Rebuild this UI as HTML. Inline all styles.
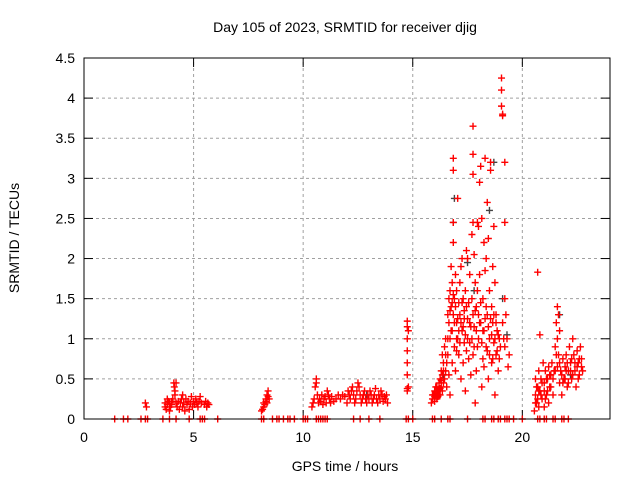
<!DOCTYPE html>
<html><head><meta charset="utf-8"><style>
html,body{margin:0;padding:0;background:#fff;}
svg{display:block;font-family:"Liberation Sans",sans-serif;}
</style></head><body>
<svg id="chart" width="640" height="480" viewBox="0 0 640 480">
<text x="345" y="32" text-anchor="middle" font-size="14">Day 105 of 2023, SRMTID for receiver djig</text>
<text x="345" y="471" text-anchor="middle" font-size="14">GPS time / hours</text>
<text transform="translate(19,238) rotate(-90)" text-anchor="middle" font-size="14">SRMTID / TECUs</text>
<g id="grid"></g>
<g id="ticks"></g>
<g id="marks"></g>
<rect x="84" y="58" width="526" height="361" fill="none" stroke="#000" stroke-width="1"/>
</svg>
<script>
const xTicks=[0,5,10,15,20];
const yTicks=[0,0.5,1,1.5,2,2.5,3,3.5,4,4.5];
const yTickLabels=["0","0.5","1","1.5","2","2.5","3","3.5","4","4.5"];
const zeroHours=[1.4,1.8,2.0,2.6,2.8,2.9,3.6,3.9,4.2,4.8,5.3,5.4,5.5,6.1,8.1,8.2,8.6,8.8,8.9,9.1,9.3,9.4,9.6,10.0,10.1,10.2,10.6,10.7,10.8,10.9,11.0,11.1,12.3,12.6,13.0,13.5,14.7,14.8,15.0,15.9,16.0,16.3,16.6,16.7,17.5,18.2,18.3,18.6,18.7,18.9,19.0,19.2,19.3,19.4,19.6,20.0,20.7,20.8,21.0,21.1,21.4,21.5,21.8,21.9,22.1];
const morning=[[2.8,.2],[2.85,.15],[3.7,.15],[3.7,.2],[3.75,.12],[3.8,.18],[3.8,.25],[3.85,.22],[3.9,.1],[3.9,.2],[3.95,.15],[4.0,.22],[4.0,.18],[4.05,.25],[4.1,.45],[4.12,.4],[4.15,.35],[4.15,.3],[4.2,.2],[4.2,.45],[4.25,.15],[4.3,.22],[4.35,.12],[4.4,.2],[4.45,.25],[4.5,.15],[4.5,.3],[4.55,.2],[4.6,.1],[4.65,.25],[4.7,.18],[4.75,.22],[4.8,.12],[4.85,.2],[4.9,.28],[4.95,.15],[5.0,.22],[5.05,.18],[5.1,.25],[5.15,.2],[5.2,.15],[5.25,.22],[5.3,.28],[5.35,.2],[5.5,.18],[5.55,.22],[5.6,.15],[5.65,.2],[5.7,.18]];
const midday=[[8.1,.1],[8.15,.12],[8.2,.15],[8.2,.2],[8.25,.18],[8.3,.22],[8.3,.25],[8.35,.2],[8.35,.3],[8.4,.28],[8.4,.35],[8.45,.25],[10.4,.15],[10.45,.2],[10.5,.25],[10.55,.4],[10.6,.5],[10.6,.45],[10.65,.3],[10.7,.2],[10.75,.25],[10.8,.22],[10.85,.3],[10.9,.18],[10.95,.25],[11.0,.28],[11.05,.2],[11.1,.35],[11.15,.3],[11.2,.25],[11.25,.2],[11.3,.28],[11.4,.22],[11.5,.25],[11.6,.3],[11.7,.25],[11.8,.3],[11.9,.28],[12.0,.2],[12.05,.35],[12.1,.3],[12.15,.25],[12.2,.35],[12.25,.4],[12.3,.3],[12.35,.2],[12.4,.25],[12.45,.35],[12.5,.45],[12.55,.4],[12.6,.3],[12.65,.2],[12.7,.25],[12.75,.3],[12.8,.35],[12.85,.25],[12.9,.2],[12.95,.3],[13.0,.25],[13.05,.35],[13.1,.3],[13.15,.2],[13.2,.25],[13.25,.3],[13.3,.38],[13.35,.25],[13.4,.2],[13.45,.3],[13.5,.25],[13.55,.35],[13.6,.3],[13.65,.22],[13.7,.28],[13.75,.25],[13.8,.3],[13.85,.2],[14.75,.35],[14.75,.38],[14.75,.55],[14.75,.7],[14.75,.85],[14.75,1.0],[14.75,1.15],[14.75,1.22],[14.8,.4],[14.8,1.1]];
const burst=[[15.85,.2],[15.9,.25],[15.95,.3],[16.0,.22],[16.0,.35],[16.05,.3],[16.1,.4],[16.1,.25],[16.15,.35],[16.2,.45],[16.2,.3],[16.25,.5],[16.25,.38],[16.3,.6],[16.3,.4],[16.35,.55],[16.35,.8],[16.4,.7],[16.4,.45],[16.45,.9],[16.5,1.0],[16.5,.6],[16.55,.4],[16.6,1.3],[16.6,.8],[16.65,1.5],[16.65,.55],[16.7,1.6],[16.7,1.0],[16.7,.3],[16.75,1.9],[16.75,1.4],[16.8,1.7],[16.8,1.1],[16.8,.7],[16.85,2.2],[16.85,1.3],[16.85,3.1],[16.85,3.25],[16.85,2.45],[16.9,1.5],[16.9,.9],[16.95,1.8],[16.95,.6],[17.0,1.2],[17.0,1.6],[17.05,2.75],[17.05,1.0],[17.1,1.45],[17.1,.8],[17.15,1.3],[17.15,1.7],[17.2,1.9],[17.2,.5],[17.25,2.0],[17.25,1.1],[17.3,1.5],[17.3,.7],[17.35,1.25],[17.35,.95],[17.4,1.6],[17.4,.35],[17.45,2.1],[17.45,1.4],[17.5,2.0],[17.5,1.0],[17.55,.75],[17.6,1.8],[17.6,1.2],[17.65,.55],[17.7,1.5],[17.7,2.3],[17.75,2.45],[17.75,3.05],[17.75,3.3],[17.75,3.65],[17.75,1.3],[17.8,2.05],[17.8,.9],[17.85,1.7],[17.85,.2],[17.9,1.4],[17.9,.6],[17.95,2.45],[17.95,1.6],[18.0,2.4],[18.0,1.0],[18.05,2.95],[18.05,1.8],[18.1,3.15],[18.1,1.2],[18.15,2.5],[18.15,.4],[18.2,1.5],[18.2,.75],[18.25,2.2],[18.25,1.1],[18.3,3.25],[18.3,1.85],[18.35,2.0],[18.35,.9],[18.4,2.7],[18.4,1.3],[18.45,2.25],[18.45,.5],[18.5,1.6],[18.5,1.0],[18.55,3.1],[18.55,3.2],[18.6,1.4],[18.6,.7],[18.65,1.9],[18.65,1.2],[18.7,2.4],[18.7,.95],[18.75,1.7],[18.75,.3],[18.8,1.3],[18.8,.8],[18.85,1.1],[18.9,.6],[18.95,1.0],[19.05,4.25],[19.05,4.1],[19.05,3.9],[19.1,3.78],[19.1,3.8],[19.2,3.2],[19.2,2.45],[19.2,1.5],[19.2,.9],[19.25,1.3],[19.3,1.0],[19.35,.65],[19.4,.8]];
const burstDense=[[15.9,.3],[16.0,.28],[16.05,.4],[16.1,.32],[16.15,.28],[16.2,.38],[16.25,.3],[16.3,.48],[16.35,.35],[16.4,.6],[16.45,.5],[16.5,.8],[16.55,.7],[16.6,1.0],[16.65,1.2],[16.7,1.35],[16.75,1.1],[16.8,1.45],[16.85,1.55],[16.9,1.2],[16.95,1.4],[17.0,1.0],[17.0,.85],[17.05,1.25],[17.1,1.1],[17.15,.95],[17.2,1.2],[17.25,1.45],[17.3,1.15],[17.35,1.35],[17.4,1.05],[17.45,.85],[17.5,1.25],[17.55,1.45],[17.6,.95],[17.65,1.15],[17.7,1.0],[17.75,.8],[17.8,1.15],[17.85,1.35],[17.9,1.1],[17.95,.9],[18.0,1.3],[18.05,1.2],[18.1,1.45],[18.15,.95],[18.2,1.1],[18.25,.65],[18.3,1.25],[18.35,1.4],[18.4,.85],[18.45,1.15],[18.5,.8],[18.55,1.25],[18.6,1.05],[18.65,.75],[18.7,1.3],[18.75,1.0],[18.8,1.2],[18.85,.85],[18.9,1.05],[18.95,.75],[19.0,.9],[19.1,1.2],[19.15,1.0]];
const evening=[[20.55,.1],[20.6,.3],[20.6,.5],[20.65,.2],[20.7,1.83],[20.7,.4],[20.75,.6],[20.75,.15],[20.8,1.05],[20.8,.35],[20.85,.5],[20.9,.25],[20.95,.7],[21.0,.45],[21.0,.15],[21.05,.6],[21.1,.3],[21.15,.5],[21.2,.65],[21.2,.2],[21.25,.4],[21.3,.55],[21.35,.7],[21.4,.3],[21.45,.6],[21.5,.9],[21.55,1.2],[21.6,1.4],[21.6,1.0],[21.65,.8],[21.65,1.3],[21.7,1.1],[21.7,.45],[21.75,.6],[21.8,.3],[21.85,.75],[21.9,.5],[21.95,.65],[22.0,.8],[22.05,.4],[22.1,.6],[22.15,.9],[22.2,.7],[22.25,.5],[22.3,1.0],[22.35,.8],[22.4,.6],[22.45,.4],[22.5,.85],[22.55,.7],[22.6,.55],[22.65,.9],[22.7,.75],[22.75,.6],[20.6,.2],[20.65,.4],[20.7,.25],[20.75,.35],[20.85,.3],[20.9,.45],[21.0,.35],[21.05,.25],[21.1,.5],[21.15,.35],[21.25,.55],[21.3,.4],[21.4,.5],[21.5,.6],[21.55,.8],[21.6,.65],[21.7,.7],[21.8,.55],[21.85,.45],[21.95,.5],[22.0,.6],[22.05,.7],[22.1,.45],[22.2,.6],[22.25,.75],[22.3,.55],[22.4,.7],[22.5,.65],[22.55,.5],[22.6,.75],[22.7,.65]];
const grayPoints=[[16.9,2.75],[16.85,2.45],[17.5,1.95],[18.7,3.2],[18.5,2.6],[19.1,1.5],[19.3,1.05],[17.8,1.6],[16.4,.55],[12.9,.3],[22.2,.55],[21.7,1.3]];

const X0=84,X1=610,Y0=419,Y1=58,XMAX=24,YMAX=4.5;
function sx(h){return X0+(h/XMAX)*(X1-X0);}
function sy(v){return Y0-(v/YMAX)*(Y0-Y1);}
const NS="http://www.w3.org/2000/svg";
const grid=document.getElementById('grid'),ticks=document.getElementById('ticks'),marks=document.getElementById('marks');
function mk(tag,attrs,parent){const e=document.createElementNS(NS,tag);for(const k in attrs)e.setAttribute(k,attrs[k]);parent.appendChild(e);return e;}
yTicks.forEach((v,i)=>{
  const y=sy(v);
  if(v>0&&v<YMAX){const g=mk('line',{x1:X0,x2:X1,y1:y,y2:y,stroke:'#a0a0a0','stroke-dasharray':'3,3'},grid);
  
  }
  mk('line',{x1:X0,x2:X0+9,y1:y,y2:y,stroke:'#000'},ticks);
  mk('line',{x1:X1-9,x2:X1,y1:y,y2:y,stroke:'#000'},ticks);
  const t=mk('text',{x:X0-9,y:y+5,'text-anchor':'end','font-size':14},ticks);
  t.textContent=yTickLabels[i];
  
  
});
xTicks.forEach(h=>{
  const x=sx(h);
  if(h>0){const g=mk('line',{x1:x,x2:x,y1:Y0,y2:Y1,stroke:'#a0a0a0','stroke-dasharray':'3,3'},grid);
  
  }
  mk('line',{x1:x,x2:x,y1:Y0,y2:Y0-9,stroke:'#000'},ticks);
  mk('line',{x1:x,x2:x,y1:Y1,y2:Y1+9,stroke:'#000'},ticks);
  const t=mk('text',{x:x,y:Y0+23,'text-anchor':'middle','font-size':14},ticks);
  t.textContent=String(h);
  
  
});
function plus(h,v,color){
  const x=sx(h),y=sy(v);
  const p=mk('path',{d:`M${x-3.5} ${y}h7M${x} ${y-3.5}v7`,stroke:color,'stroke-width':1.4,fill:'none'},marks);
  
  
}
grayPoints.forEach(p=>plus(p[0],p[1],'#444'));
zeroHours.forEach(h=>plus(h,0,'#f00'));
[morning,midday,burst,burstDense,evening].forEach(arr=>arr.forEach(p=>plus(p[0],p[1],'#f00')));
</script>
</body></html>
